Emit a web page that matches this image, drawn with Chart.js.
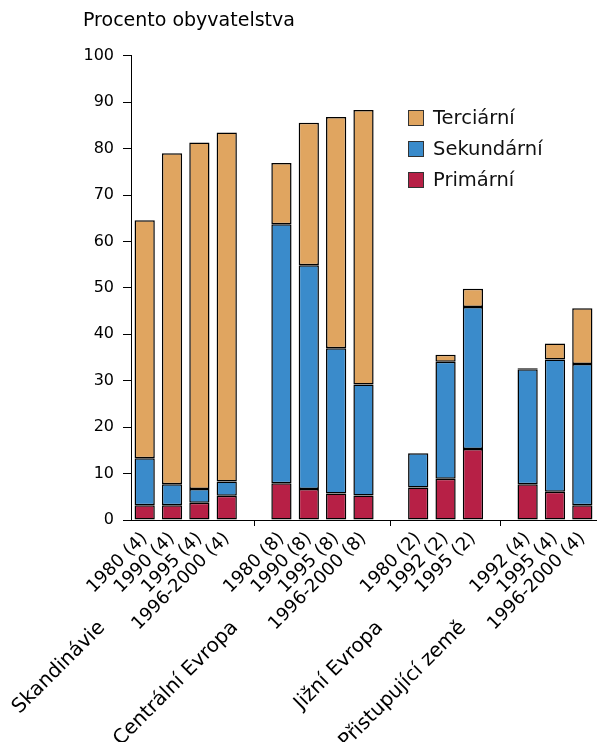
<!DOCTYPE html>
<html>
<head>
<meta charset="utf-8">
<script src="https://cdn.jsdelivr.net/npm/chart.js@4"></script>
<style>
    body { margin: 0; background: #fff; }
    #wrap { position: relative; width: 597px; height: 742px; }
    #legend { position: absolute; left: 408px; top: 102px; font: 19.5px 'DejaVu Sans', sans-serif; color: #111; }
    #legend .row { display: flex; align-items: center; height: 31px; }
    #legend .box { width: 16px; height: 16px; box-sizing: border-box; border: 1px solid #333; margin-right: 9px; }
</style>
</head>
<body>
<div id="wrap">
    <canvas id="chart"></canvas>
    <div id="legend"></div>
</div>
<script>
// '' marks the empty slot between region groups
const categories = [
    '1980 (4)', '1990 (4)', '1995 (4)', '1996-2000 (4)', '',
    '1980 (8)', '1990 (8)', '1995 (8)', '1996-2000 (8)', '',
    '1980 (2)', '1992 (2)', '1995 (2)', '',
    '1992 (4)', '1995 (4)', '1996-2000 (4)'
];
const groups = ['Skandinávie', 'Centrální Evropa', 'Jižní Evropa', 'Přistupující země'];

const primarni = [3.2, 3.2, 3.7, 5.2, null, 7.9, 6.7, 5.7, 5.3, null, 7.0, 8.9, 15.3, null, 7.7, 6.1, 3.2];
const sekundarni = [10.1, 4.5, 3.0, 3.1, null, 55.8, 48.2, 31.3, 23.9, null, 7.4, 25.2, 30.6, null, 24.8, 28.5, 30.4];
const tercialni = [51.3, 71.3, 74.6, 75.2, null, 13.2, 30.7, 49.8, 59.1, null, 0, 1.5, 3.9, null, 0.2, 3.4, 12.0];

const yTicks = [0, 10, 20, 30, 40, 50, 60, 70, 80, 90, 100];

// where the rotated group names sit on the category scale (slot units)
const groupLabelAt = [-1.56, 3.30, 8.6, 11.64];

Chart.defaults.font.family = "'DejaVu Sans', sans-serif";
Chart.defaults.color = '#000';

const datasets = [
    { label: 'Primární', data: primarni, backgroundColor: '#b72046' },
    { label: 'Sekundární', data: sekundarni, backgroundColor: '#3a8bcb' },
    { label: 'Terciární', data: tercialni, backgroundColor: '#e0a560' }
].map(d => Object.assign(d, {
    borderColor: '#000',
    borderWidth: 1.5,
    borderSkipped: false,
    barPercentage: 0.74,
    categoryPercentage: 1.0
}));

// legend, top series first
const legend = document.getElementById('legend');
datasets.slice().reverse().forEach(d => {
    const row = document.createElement('div');
    row.className = 'row';
    row.innerHTML = '<span class="box" style="background:' + d.backgroundColor + '"></span>' + d.label;
    legend.appendChild(row);
});

const ctx = document.getElementById('chart').getContext('2d');
const chart = new Chart(ctx, {
    type: 'bar',
    data: { labels: categories, datasets: datasets },
    options: {
        responsive: true,
        maintainAspectRatio: false,
        animation: false,
        layout: { padding: { left: 83, right: 1, top: 0, bottom: 0 } },
        plugins: {
            legend: { display: false },
            tooltip: { enabled: false },
            title: {
                display: true,
                text: 'Procento obyvatelstva',
                align: 'start',
                color: '#000',
                font: { size: 19, weight: 'normal' },
                padding: { top: 10, bottom: 23 }
            }
        },
        scales: {
            x: {
                stacked: true,
                offset: true,
                border: { color: '#000' },
                grid: {
                    drawOnChartArea: false,
                    offset: false,
                    tickLength: 6,
                    color: c => categories[c.index] === '' ? '#000' : 'rgba(0,0,0,0)'
                },
                ticks: { autoSkip: false, minRotation: 45, maxRotation: 45, padding: 2, font: { size: 18 } },
                afterFit: s => { s.height = 222; s.paddingLeft = 0; s.paddingRight = 0; }
            },
            // second row of category labels: region names, hung below the year labels
            x2: {
                axis: 'x',
                type: 'linear',
                position: { y: -20.7 },
                offset: false,
                min: -0.5,
                max: 16.5,
                grid: { display: false, drawTicks: false },
                border: { display: false },
                afterBuildTicks: s => { s.ticks = groupLabelAt.map(v => ({ value: v })); },
                ticks: {
                    autoSkip: false, minRotation: 45, maxRotation: 45, padding: 0,
                    font: { size: 20 },
                    callback: (v, i) => groups[i]
                }
            },
            y: {
                stacked: true,
                min: 0,
                max: 100,
                border: { color: '#000' },
                grid: { drawOnChartArea: false, tickLength: 8, color: '#000' },
                afterBuildTicks: s => { s.ticks = yTicks.map(v => ({ value: v })); },
                afterFit: s => { s.width = 48; },
                ticks: { padding: 9, font: { size: 16 } }
            }
        }
    }
});
</script>
</body>
</html>
